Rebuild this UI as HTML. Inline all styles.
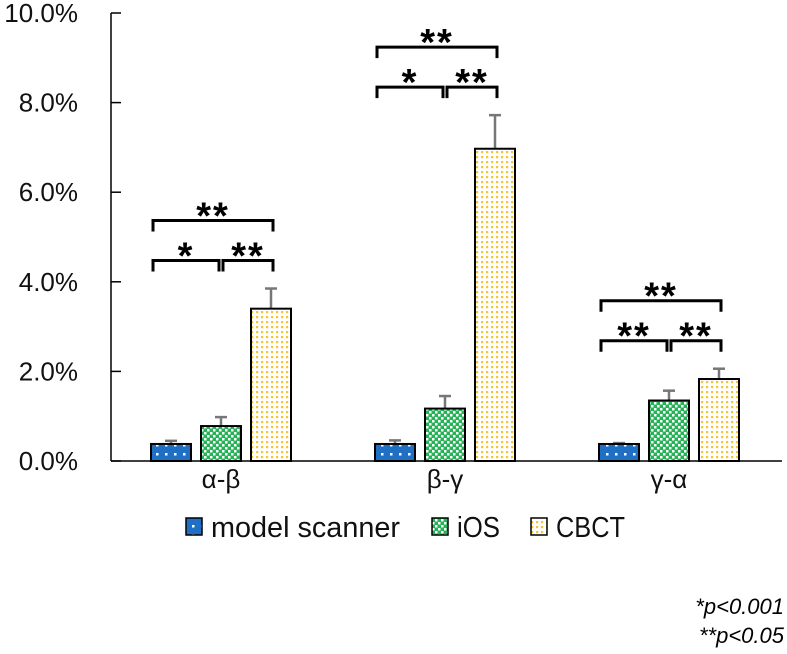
<!DOCTYPE html>
<html><head><meta charset="utf-8"><style>
body{margin:0;background:#fff;}
svg{display:block;font-family:"Liberation Sans",sans-serif;}
</style></head><body>
<svg id="c" width="787" height="654" viewBox="0 0 787 654">
<defs>
<pattern id="pb" width="9" height="9" patternUnits="userSpaceOnUse"><rect width="9" height="9" fill="#1f6fc4"/><rect x="3" y="3" width="2.5" height="2.5" fill="#fff"/></pattern>
<pattern id="pg" width="6" height="6" patternUnits="userSpaceOnUse"><rect width="6" height="6" fill="#22b455"/><rect x="0" y="0" width="2.5" height="2.5" fill="#fff"/><rect x="3" y="3" width="2.5" height="2.5" fill="#fff"/></pattern>
<pattern id="py" width="5" height="5" patternUnits="userSpaceOnUse"><rect width="5" height="5" fill="#fff"/><rect x="1" y="1" width="2.2" height="2.2" fill="#f6c431"/></pattern>
</defs>
<g id="axes"></g><g id="bars"></g><g id="sig"></g>
<g font-size="29" fill="#111">
<rect x="186" y="518" width="16" height="17" fill="url(#pb)" stroke="#000" stroke-width="1.5"/>
<text x="211" y="537" textLength="189" lengthAdjust="spacingAndGlyphs">model scanner</text>
<rect x="432" y="518" width="16" height="17" fill="url(#pg)" stroke="#000" stroke-width="1.5"/>
<text x="457" y="537" textLength="43" lengthAdjust="spacingAndGlyphs">iOS</text>
<rect x="531" y="518" width="16" height="17" fill="url(#py)" stroke="#000" stroke-width="1.5"/>
<text x="556" y="537" textLength="69" lengthAdjust="spacingAndGlyphs">CBCT</text>
</g>
<text x="784" y="614" text-anchor="end" font-size="22" font-style="italic">*p&lt;0.001</text>
<text x="784" y="643" text-anchor="end" font-size="22" font-style="italic">**p&lt;0.05</text>
</svg>
<script>
const categories=["α-β","β-γ","γ-α"];
const seriesNames=["model scanner","iOS","CBCT"];
const modelScanner=[0.38,0.38,0.38];
const iosVals=[0.78,1.17,1.35];
const cbctVals=[3.4,6.97,1.83];
const modelErr=[0.07,0.08,0.02];
const iosErr=[0.2,0.28,0.22];
const cbctErr=[0.45,0.75,0.23];
const yTicks=[0,2,4,6,8,10];
const sigLower=[["*","**"],["*","**"],["**","**"]];
const sigUpper=["**","**","**"];

const NS="http://www.w3.org/2000/svg";
const x0=111,x1=782,yTop=13,yBot=461,gx0=109;
const y=v=>yBot-(v/10)*(yBot-yTop);
const bw=224;
const barW=40,gap=10;
const barX=(ci,si)=>gx0+bw*ci+bw/2-barW*1.5-gap+si*(barW+gap);
function mk(tag,attrs,parent){const e=document.createElementNS(NS,tag);for(const k in attrs)e.setAttribute(k,attrs[k]);parent.appendChild(e);return e;}
const axes=document.getElementById('axes');
const yl=mk('line',{x1:x0,y1:yTop,x2:x0,y2:yBot,stroke:'#000','stroke-width':1.5},axes);


const xl=mk('line',{x1:x0,y1:yBot,x2:x1,y2:yBot,stroke:'#000','stroke-width':1.5},axes);


yTicks.forEach(t=>{
 mk('line',{x1:x0,y1:y(t),x2:x0+10,y2:y(t),stroke:'#000','stroke-width':1.5},axes);
 const tx=mk('text',{x:78,y:y(t)+9,'text-anchor':'end','font-size':26,fill:'#111'},axes);
 tx.textContent=t.toFixed(1)+'%';
 
 
});
categories.forEach((c,ci)=>{
 const tx=mk('text',{x:gx0+bw*ci+bw/2,y:488,'text-anchor':'middle','font-size':26,fill:'#111'},axes);
 tx.textContent=c;
 
 
});
const bars=document.getElementById('bars');
const vals=[modelScanner,iosVals,cbctVals],errs=[modelErr,iosErr,cbctErr],fills=['url(#pb)','url(#pg)','url(#py)'];
categories.forEach((c,ci)=>{
 vals.forEach((s,si)=>{
  const bx=barX(ci,si),v=s[ci],e=errs[si][ci];
  const cx=bx+barW/2;
  const el=mk('line',{x1:cx,y1:y(v),x2:cx,y2:y(v+e),stroke:'#777','stroke-width':2.5},bars);
  
  
  mk('line',{x1:cx-6,y1:y(v+e),x2:cx+6,y2:y(v+e),stroke:'#777','stroke-width':2.5},bars);
  const r=mk('rect',{x:bx,y:y(v),width:barW,height:yBot-y(v),fill:fills[si],stroke:'#000','stroke-width':2},bars);
  
  
 });
});
const sig=document.getElementById('sig');
function bracket(xa,xb,yy,label){
 const p=mk('path',{d:`M${xa},${yy+11}V${yy}H${xb}V${yy+11}`,fill:'none',stroke:'#000','stroke-width':3},sig);
 
 
 const t=mk('text',{x:(xa+xb)/2,y:yy+8,'text-anchor':'middle','font-size':38,'font-weight':'bold',fill:'#000','letter-spacing':'2'},sig);
 t.textContent=label;
 
 
}
categories.forEach((c,ci)=>{
 const top=Math.max(...vals.map((s,si)=>s[ci]+errs[si][ci]));
 const low=y(top)-28, up=low-40;
 const c0=barX(ci,0)+barW/2,c1=barX(ci,1)+barW/2,c2=barX(ci,2)+barW/2;
 bracket(c0-18,c1-2,low,sigLower[ci][0]);
 bracket(c1+2,c2+2,low,sigLower[ci][1]);
 bracket(c0-18,c2+2,up,sigUpper[ci]);
});
</script>
</body></html>
